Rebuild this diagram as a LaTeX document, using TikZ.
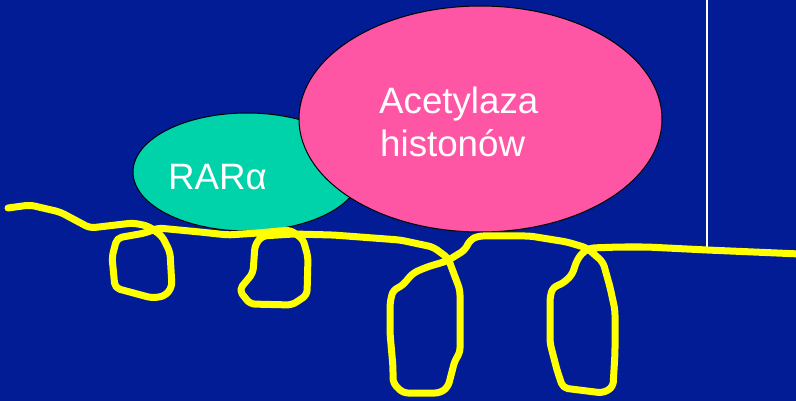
\documentclass[tikz,border=0pt]{standalone}
\usepackage{fontspec}
\setmainfont{Liberation Sans}
\usetikzlibrary{shapes.geometric}
\definecolor{bgblue}{RGB}{2,28,150}
\definecolor{rargreen}{RGB}{0,210,170}
\definecolor{hatpink}{RGB}{255,85,165}
\definecolor{dnayellow}{RGB}{255,255,0}
\tikzset{
  protein/.style={ellipse, draw=black, line width=1pt, inner sep=0pt},
  label/.style={text=white, font=\fontsize{36.7}{43}\selectfont, inner sep=0pt},
  chromatin/.style={draw=dnayellow, line width=7pt, line join=round, line cap=round, rounded corners=5pt}
}
\begin{document}
\begin{tikzpicture}[x=1pt, y=-1pt]
  % background
  \fill[bgblue] (0,0) rectangle (796,401);
  \useasboundingbox (0,0) rectangle (796,401);
  % white divider line
  \coordinate (divtop) at (707,0);
  \coordinate (divbot) at (707,248);
  \draw[white, line width=1.2pt] (divtop) -- (divbot);
  % proteins
  \node[protein, fill=rargreen, minimum width=228pt, minimum height=118pt] (rar) at (247,172) {};
  \node[protein, fill=hatpink, minimum width=363pt, minimum height=226pt] (hat) at (480.5,119) {};
  \node[label, anchor=base west] (rartext) at (168,190) {RARα};
  \node[label, anchor=base west] (hattext1) at (379,114) {Acetylaza};
  \node[label, anchor=base west] (hattext2) at (380,157) {histonów};
  % chromatin fibre wound around nucleosomes
  \draw[chromatin]
    (8,208) -- (30,205) -- (60,212) -- (90,228) -- (133,223) -- (148,226)
    -- (162,236) -- (170,252) -- (172,287) -- (165,296) -- (152,298)
    -- (115,288) -- (112,257) -- (117,238) -- (145,233) -- (158,228)
    -- (200,232) -- (228,235) -- (258,233) -- (290,230) -- (303,239)
    -- (308,257) -- (307,295) -- (292,305) -- (250,304) -- (239,290)
    -- (253,273) -- (255,245) -- (262,236) -- (293,234) -- (333,235)
    -- (400,240) -- (433,247) -- (448,258) -- (460,290) -- (460,353)
    -- (455,360) -- (448,387) -- (440,393) -- (403,393) -- (393,383)
    -- (393,367) -- (390,333) -- (390,303) -- (393,290) -- (402,286)
    -- (413,273) -- (427,267) -- (447,261) -- (465,250) -- (470,240)
    -- (478,236) -- (530,236) -- (567,242) -- (587,248) -- (603,262)
    -- (610,287) -- (615,310) -- (615,353) -- (613,387) -- (603,393)
    -- (563,388) -- (557,370) -- (550,343) -- (550,297) -- (553,287)
    -- (562,284) -- (572,275) -- (577,260) -- (583,252) -- (590,248)
    -- (620,247) -- (647,247) -- (707,250) -- (800,254);
\end{tikzpicture}
\end{document}
